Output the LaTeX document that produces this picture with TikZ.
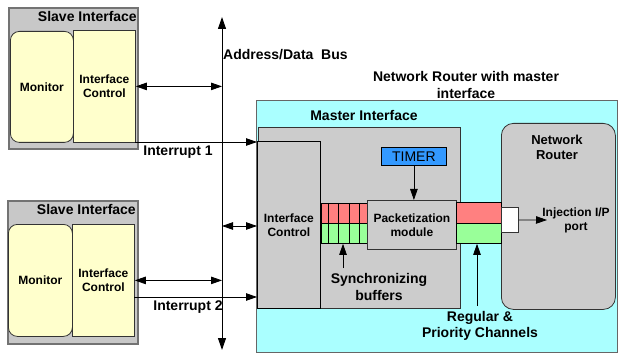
\documentclass[tikz,border=0pt]{standalone}
\usepackage{fontspec}
\setmainfont{Liberation Sans}
\usetikzlibrary{arrows.meta}
\definecolor{boxgray}{RGB}{204,204,204}
\definecolor{slavegray}{RGB}{200,200,200}
\definecolor{paleyellow}{RGB}{255,255,204}
\definecolor{palecyan}{RGB}{170,255,255}
\definecolor{bufred}{RGB}{255,128,128}
\definecolor{bufgreen}{RGB}{153,255,153}
\definecolor{timerblue}{RGB}{51,153,255}
\begin{document}
\begin{tikzpicture}[x=1pt,y=-1pt,
  box/.style={draw=black, line width=0.8pt, anchor=north west, inner sep=0pt, align=center,
    font=\bfseries\fontsize{12}{14}\selectfont},
  slavebox/.style={box, fill=slavegray, draw=black!55, line width=1.6pt},
  yellowbox/.style={box, fill=paleyellow, draw=black!80},
  lbl/.style={inner sep=0pt, align=center, font=\bfseries\fontsize{14}{16.5}\selectfont},
  smalllbl/.style={inner sep=0pt, align=center, font=\bfseries\fontsize{12}{14}\selectfont},
  arr/.style={-{Triangle[length=11pt,width=7.5pt]}, line width=0.8pt},
  darr/.style={{Triangle[length=11pt,width=7.5pt]}-{Triangle[length=11pt,width=7.5pt]}, line width=0.8pt},
  thinline/.style={line width=0.8pt}]
\useasboundingbox (0,0) rectangle (618,358);

% Slave interface 1
\node[slavebox, minimum width=129pt, minimum height=141pt] (s1) at (8,7) {};
\node[lbl, anchor=east] (s1t) at (137,16) {Slave Interface};
\node[yellowbox, rounded corners=9pt, minimum width=63pt, minimum height=111pt] (mon1) at (10,31) {Monitor};
\node[yellowbox, minimum width=62pt, minimum height=112pt] (sic1) at (73,30) {Interface\\Control};

% Slave interface 2
\node[slavebox, minimum width=130pt, minimum height=143pt] (s2) at (7,200) {};
\node[lbl, anchor=east] (s2t) at (136,209) {Slave Interface};
\node[yellowbox, rounded corners=9pt, minimum width=64pt, minimum height=112pt] (mon2) at (8,224) {Monitor};
\node[yellowbox, minimum width=62pt, minimum height=112pt] (sic2) at (72,224) {Interface\\Control};

% Network router with master interface
\node[box, fill=palecyan, draw=black!60, minimum width=361pt, minimum height=252pt] (nr) at (256,100) {};
\node[lbl] (nrt) at (466,85) {Network Router with master\\interface};
\node[box, fill=boxgray, draw=black!80, minimum width=202pt, minimum height=181pt] (mi) at (258,127) {};
\node[lbl] (mit) at (364,115) {Master Interface};
\node[box, fill=boxgray, minimum width=63pt, minimum height=167pt] (mic) at (257,141) {Interface\\Control};

% Synchronizing buffers
\node[box, fill=bufred, minimum width=46pt, minimum height=20pt] (bred) at (321,203) {};
\node[box, fill=bufgreen, minimum width=46pt, minimum height=20pt] (bgreen) at (321,223) {};
\foreach \xx in {328,338,349,359}
  \draw[thinline] (\xx,203) -- (\xx,243);

% Packetization and timer
\node[box, fill=boxgray, draw=black!80, minimum width=89pt, minimum height=49pt] (pkt) at (367,200) {Packetization\\module};
\node[box, fill=timerblue, minimum width=65pt, minimum height=18pt, font=\fontsize{14}{16}\selectfont] (timer) at (381,147) {TIMER};
\draw[arr] (timer.south) -- (timer.south |- pkt.north);

% Network router
\node[box, fill=boxgray, draw=black!80, rounded corners=12pt, minimum width=114pt, minimum height=186pt] (rt) at (501,123) {};
\node[smalllbl, font=\bfseries\fontsize{13}{15}\selectfont] (rtt) at (557,147) {Network\\Router};
\node[smalllbl] (inj) at (576,220) {Injection I/P\\port};

% Channels
\node[box, fill=bufred, minimum width=45pt, minimum height=21pt] (cred) at (456,202) {};
\node[box, fill=bufgreen, minimum width=45pt, minimum height=20pt] (cgreen) at (456,223) {};
\node[box, fill=white, draw=black!80, minimum width=17pt, minimum height=25pt] (port) at (501,207) {};
\coordinate (injend) at (547,220);
\draw[arr] (port.east) -- (injend);

% Labels with arrows
\node[lbl] (sync) at (379,287) {Synchronizing\\buffers};
\coordinate (syncstart) at (343,268);
\draw[arr] (syncstart) -- (syncstart |- bgreen.south);
\node[lbl] (chan) at (480,326) {Regular \&\\Priority Channels};
\coordinate (chanstart) at (477,306);
\draw[arr] (chanstart) -- (chanstart |- cgreen.south);

% Bus
\coordinate (bustop) at (222,17);
\coordinate (busbot) at (222,350);
\draw[{Triangle[length=12pt,width=8pt]}-{Triangle[length=12pt,width=8pt]}, line width=1pt] (busbot) -- (bustop);
\node[lbl, anchor=west, font=\bfseries\fontsize{14}{16}\selectfont] (bust) at (223,55) {Address/Data\ \ Bus};

% Bus connections
\draw[darr] (sic1.east) -- (sic1.east -| bustop);
\draw[darr] (sic2.east) -- (sic2.east -| bustop);
\coordinate (mbus) at (222,226);
\draw[darr] (mbus) -- (mbus -| mic.west);

% Interrupts
\coordinate (int1) at (135,142);
\draw[arr] (int1) -- (int1 -| mic.west);
\node[lbl] (int1t) at (178,152) {Interrupt 1};
\coordinate (int2) at (134,297);
\draw[arr] (int2) -- (int2 -| mic.west);
\node[lbl] (int2t) at (188,307) {Interrupt 2};
\end{tikzpicture}
\end{document}
